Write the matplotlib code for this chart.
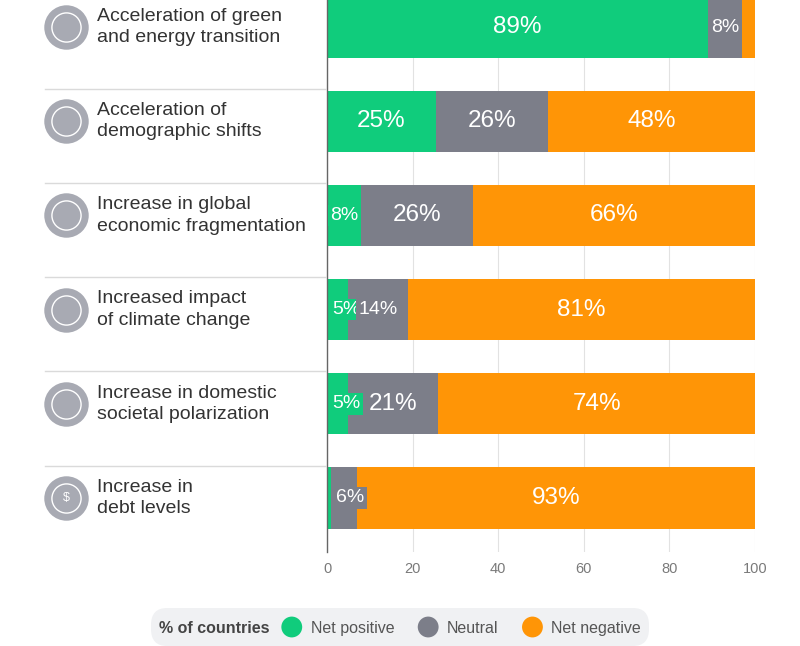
import matplotlib
matplotlib.use('Agg')
import matplotlib.pyplot as plt
import matplotlib.transforms as mtransforms
from matplotlib.patches import Circle
from matplotlib.offsetbox import TextArea, DrawingArea, HPacker, AnchoredOffsetbox

plt.rcParams['font.family'] = ['Liberation Sans', 'DejaVu Sans']

# data (% of countries)
categories = [
    'Acceleration of green\nand energy transition',
    'Acceleration of\ndemographic shifts',
    'Increase in global\neconomic fragmentation',
    'Increased impact\nof climate change',
    'Increase in domestic\nsocietal polarization',
    'Increase in\ndebt levels',
]
net_positive = [89, 25.4, 8, 5, 5, 1]
neutral = [8, 26.2, 26, 14, 21, 6]
net_negative = [3, 48.4, 66, 81, 74, 93]

series_names = ['Net positive', 'Neutral', 'Net negative']
colors = ['#10cc7c', '#7c7e89', '#ff9506']
xticks = [0, 20, 40, 60, 80, 100]

W, H = 800, 646
fig = plt.figure(figsize=(W / 100, H / 100), dpi=100)

# axes spans the plot area; rows are ~94 px apart
row_px = 94.2
ax_top_px, ax_bottom_px = 0, 552
ax = fig.add_axes([327 / W, 1 - ax_bottom_px / H, (755 - 327) / W, (ax_bottom_px - ax_top_px) / H])
y_top = -27 / row_px
ax.set_ylim(y_top + (ax_bottom_px - ax_top_px) / row_px, y_top)
ax.set_xlim(0, 100)

ypos = list(range(len(categories)))
series = [net_positive, neutral, net_negative]

lefts = [0] * len(categories)
segments = []
for vals, col in zip(series, colors):
    ax.barh(ypos, vals, left=lefts, height=0.65, color=col, zorder=2)
    for i, v in enumerate(vals):
        segments.append((i, lefts[i], v, col))
    lefts = [l + v for l, v in zip(lefts, vals)]

# value labels
for i, start, v, col in segments:
    if v < 4:
        continue
    txt = f'{round(v)}%'
    if v < 15:
        if v < 7:
            x, ha = start + 1.2, 'left'
        else:
            x, ha = start + v / 2, 'center'
        ax.text(x, i, txt, ha=ha, va='center', color='white', fontsize=14, zorder=4,
                bbox=dict(boxstyle='square,pad=0.12', fc=col, ec='none'))
    else:
        ax.text(start + v / 2, i, txt, ha='center', va='center', color='white',
                fontsize=17.5, zorder=4)

ax.set_xticks(xticks)
ax.set_yticks([])
ax.tick_params(axis='x', length=0, pad=7, labelcolor='#7a7a7a', labelsize=10.5)
ax.grid(axis='x', color='#e2e2e2', lw=0.8)
ax.set_axisbelow(True)
for s in ['top', 'right', 'bottom']:
    ax.spines[s].set_visible(False)
ax.spines['left'].set_color('#666666')
ax.spines['left'].set_linewidth(1)
ax.spines['left'].set_zorder(3)

# category labels, icons and separators on the left
trans = mtransforms.blended_transform_factory(fig.transFigure, ax.transData)
for i, cat in enumerate(categories):
    ax.text(97 / W, i, cat, transform=trans, ha='left', va='center', fontsize=14,
            color='#333333', linespacing=1.35, clip_on=False)
    ax.plot([66 / W], [i], transform=trans, marker='o', markersize=32, color='#a8aab3',
            mec='none', clip_on=False)
    ax.plot([66 / W], [i], transform=trans, marker='o', markersize=21, mfc='none',
            mec='white', mew=1.0, clip_on=False)
    if i > 0:
        ax.plot([45 / W, 325 / W], [i - 0.345, i - 0.345], transform=trans,
                color='#dadada', lw=1, clip_on=False)
ax.text(66 / W, len(categories) - 1, '$', transform=trans, ha='center', va='center',
        color='white', fontsize=9, clip_on=False)

# legend pill
def dot(col):
    da = DrawingArea(15, 15, 0, 3.4)
    da.add_artist(Circle((7.5, 4.1), 7.5, fc=col, ec='none'))
    return da

items = [TextArea('% of countries', textprops=dict(fontsize=11.5, fontweight='bold', color='#444444'))]
for k, (name, col) in enumerate(zip(series_names, colors)):
    grp = HPacker(children=[dot(col), TextArea(name, textprops=dict(fontsize=11.5, color='#555555'))],
                  sep=6, pad=0, align='baseline')
    if k > 0:
        items.append(DrawingArea(0, 1))
    items.append(grp)
pack = HPacker(children=items, sep=8.5, pad=0, align='baseline')
box = AnchoredOffsetbox(loc='center', child=pack, pad=0.6, borderpad=0, frameon=True,
                        bbox_to_anchor=(0.5, 1 - 627 / H), bbox_transform=fig.transFigure)
box.patch.set_boxstyle('round,pad=0,rounding_size=1.2')
box.patch.set_facecolor('#f0f1f3')
box.patch.set_edgecolor('none')
ax.add_artist(box)

fig.savefig('out.png', dpi=100, facecolor='white')
